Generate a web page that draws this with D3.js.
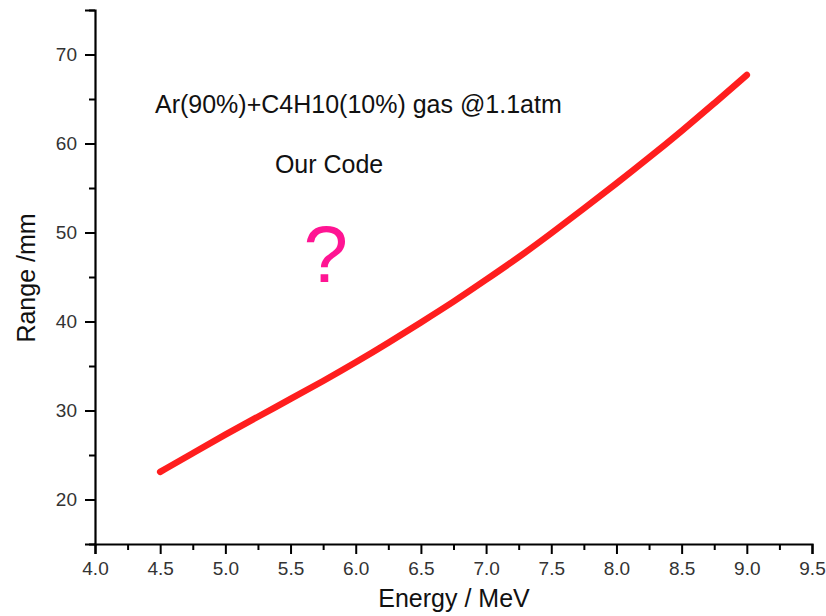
<!DOCTYPE html>
<html>
<head>
<meta charset="utf-8">
<script src="https://cdn.jsdelivr.net/npm/d3@7"></script>
<style>
  html, body { margin: 0; padding: 0; background: #fff; }
  svg { display: block; font-family: "Liberation Sans", Arial, sans-serif; }
</style>
</head>
<body>
<svg id="chart" width="826" height="616"></svg>
<script>
// Projected range of particles in Ar/C4H10 gas versus energy
const energy = [4.5, 4.75, 5.0, 5.25, 5.5, 5.75, 6.0, 6.25, 6.5, 6.75, 7.0, 7.25, 7.5, 7.75, 8.0, 8.25, 8.5, 8.75, 9.0];
const range  = [23.1, 25.2, 27.3, 29.3, 31.3, 33.3, 35.4, 37.6, 39.9, 42.2, 44.7, 47.2, 49.9, 52.7, 55.5, 58.4, 61.4, 64.5, 67.7];

const xTicks = [4.0, 4.5, 5.0, 5.5, 6.0, 6.5, 7.0, 7.5, 8.0, 8.5, 9.0, 9.5];
const xMinorTicks = [4.25, 4.75, 5.25, 5.75, 6.25, 6.75, 7.25, 7.75, 8.25, 8.75, 9.25];
const yTicks = [20, 30, 40, 50, 60, 70];
const yMinorTicks = [15, 25, 35, 45, 55, 65, 75];

const annotations = [
  { text: "Ar(90%)+C4H10(10%) gas @1.1atm", x: 4.46, y: 63.4 },
  { text: "Our Code", x: 5.38, y: 56.7 }
];
const questionMark = { text: "?", x: 5.77, y: 44.4 };

const svg = d3.select("#chart");

const x = d3.scaleLinear().domain([4.0, 9.5]).range([95, 812]);
const y = d3.scaleLinear().domain([15, 75]).range([544, 10]);

const tickColor = "#333";
const labelSize = 19;

// X axis: major ticks with labels, minor ticks without
svg.append("g").attr("transform", `translate(0,${y(15)})`)
  .call(d3.axisBottom(x).tickValues(xTicks).tickFormat(d3.format(".1f")).tickSize(10).tickPadding(8));
svg.append("g").attr("transform", `translate(0,${y(15)})`)
  .call(d3.axisBottom(x).tickValues(xMinorTicks).tickFormat("").tickSize(6))
  .select(".domain").remove();

// Y axis
svg.append("g").attr("transform", `translate(${x(4.0)},0)`)
  .call(d3.axisLeft(y).tickValues(yTicks).tickFormat(d3.format("d")).tickSize(10).tickPadding(8));
svg.append("g").attr("transform", `translate(${x(4.0)},0)`)
  .call(d3.axisLeft(y).tickValues(yMinorTicks).tickFormat("").tickSize(6))
  .select(".domain").remove();

svg.selectAll(".domain").attr("stroke", "#000").attr("stroke-width", 2.2);
svg.selectAll(".tick line").attr("stroke", "#000").attr("stroke-width", 2);
svg.selectAll(".tick text")
  .attr("fill", tickColor)
  .attr("font-size", labelSize)
  .attr("font-family", "Liberation Sans, Arial, sans-serif");

// Axis titles
svg.append("text")
  .attr("x", 454).attr("y", 607)
  .attr("text-anchor", "middle")
  .attr("font-size", 25)
  .attr("fill", "#111")
  .text("Energy / MeV");

svg.append("text")
  .attr("transform", "translate(35,278) rotate(-90)")
  .attr("text-anchor", "middle")
  .attr("font-size", 25)
  .attr("fill", "#111")
  .text("Range /mm");

// Range curve
const line = d3.line()
  .x((d, i) => x(energy[i]))
  .y(d => y(d))
  .curve(d3.curveBasis);

svg.append("path")
  .datum(range)
  .attr("fill", "none")
  .attr("stroke", "#ff1e1e")
  .attr("stroke-width", 6.5)
  .attr("stroke-linecap", "round")
  .attr("stroke-linejoin", "round")
  .attr("d", line);

// Annotations
svg.selectAll("text.note")
  .data(annotations)
  .join("text")
  .attr("class", "note")
  .attr("x", d => x(d.x))
  .attr("y", d => y(d.y))
  .attr("font-size", 25)
  .attr("fill", "#111")
  .text(d => d.text);

svg.append("text")
  .attr("x", x(questionMark.x))
  .attr("y", y(questionMark.y))
  .attr("text-anchor", "middle")
  .attr("font-size", 80)
  .attr("fill", "#ff1493")
  .text(questionMark.text);
</script>
</body>
</html>
